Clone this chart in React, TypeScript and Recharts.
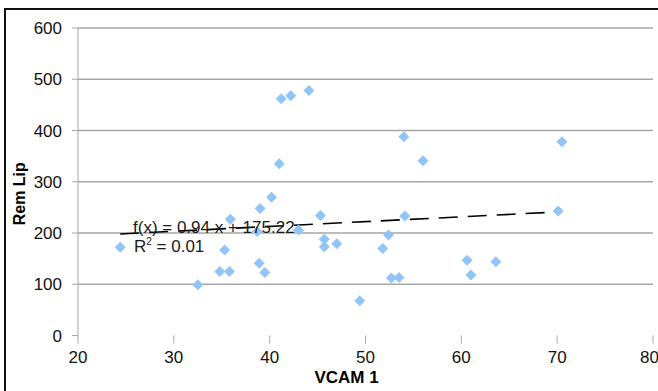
import { ScatterChart, Scatter, XAxis, YAxis, ReferenceLine } from 'recharts';

// VCAM 1 vs Rem Lip
const vcam = [
  24.4, 32.5, 34.8, 35.8, 35.3, 35.9, 38.9, 39.5, 39.0, 40.2, 38.7,
  41.0, 43.0, 45.3, 45.7, 45.7, 47.0, 49.4, 41.2, 42.2, 44.1, 54.0,
  56.0, 70.5, 54.1, 52.4, 51.8, 52.7, 53.5, 60.6, 61.0, 63.6, 70.1,
];
const remLip = [
  172, 99, 125, 125, 167, 227, 141, 123, 248, 270, 203,
  335, 206, 234, 188, 173, 179, 68, 462, 468, 478, 388,
  341, 378, 233, 196, 170, 112, 113, 147, 118, 144, 243,
];
const xTicks = [20, 30, 40, 50, 60, 70, 80];
const yTicks = [0, 100, 200, 300, 400, 500, 600];
const gridValues = [100, 200, 300, 400, 500, 600];

// linear trend shown on the chart
const slope = 0.94;
const intercept = 175.22;

const data = vcam.map((x, i) => ({ x, y: remLip[i] }));
const xMin = Math.min(...vcam);
const xMax = Math.max(...vcam);
const trend = [
  { x: xMin, y: slope * xMin + intercept },
  { x: xMax, y: slope * xMax + intercept },
];

const FONT = '"Liberation Sans", Arial, sans-serif';
const GRID = '#a6a6a6';

const Diamond = (props: any) => {
  const { cx, cy } = props;
  const r = 5.5;
  return (
    <path
      d={`M${cx},${cy - r}L${cx + r},${cy}L${cx},${cy + r}L${cx - r},${cy}Z`}
      fill="#92c5f7"
    />
  );
};

export default function App() {
  return (
    <div style={{ position: 'absolute', left: 0, top: 0, width: 658, height: 391, overflow: 'hidden', background: '#fff' }}>
      <div
        style={{
          position: 'absolute',
          left: 4,
          top: 8,
          width: 700,
          height: 420,
          borderTop: '2px solid #111',
          borderLeft: '2px solid #111',
        }}
      />
      <div style={{ position: 'absolute', left: 0, top: 0 }}>
        <ScatterChart width={658} height={391} margin={{ top: 28, right: 5, left: 0, bottom: 0 }}>
          <XAxis
            type="number"
            dataKey="x"
            domain={[20, 80]}
            ticks={xTicks}
            height={55.5}
            axisLine={false}
            tickLine={{ stroke: GRID }}
            tickSize={8}
            tickMargin={7}
            tick={{ fill: '#111', fontSize: 17, fontFamily: FONT }}
            label={{
              content: ({ viewBox }: any) => (
                <text
                  x={viewBox.x + viewBox.width / 2 - 19}
                  y={viewBox.y + viewBox.height - 8}
                  textAnchor="middle"
                  fontFamily={FONT}
                  fontSize={17}
                  fontWeight="bold"
                  fill="#000"
                >
                  VCAM 1
                </text>
              ),
            }}
          />
          <YAxis
            type="number"
            dataKey="y"
            domain={[0, 600]}
            ticks={yTicks}
            width={78}
            axisLine={{ stroke: GRID }}
            tickLine={{ stroke: GRID }}
            tickSize={6}
            tickMargin={10}
            tick={{ fill: '#111', fontSize: 17, fontFamily: FONT }}
            label={{
              content: ({ viewBox }: any) => {
                const lx = viewBox.x + 25;
                const ly = viewBox.y + viewBox.height / 2 + 12;
                return (
                  <text
                    x={lx}
                    y={ly}
                    transform={`rotate(-90, ${lx}, ${ly})`}
                    textAnchor="middle"
                    fontFamily={FONT}
                    fontSize={16}
                    fontWeight="bold"
                    fill="#000"
                  >
                    Rem Lip
                  </text>
                );
              },
            }}
          />
          {gridValues.map((v) => (
            <ReferenceLine key={v} y={v} stroke={GRID} strokeWidth={1.3} />
          ))}
          <Scatter data={data} shape={<Diamond />} isAnimationActive={false} />
          <ReferenceLine
            segment={trend}
            stroke="#000"
            strokeWidth={1.6}
            strokeDasharray="19 10"
          />
        </ScatterChart>
      </div>
      <svg
        width={658}
        height={391}
        style={{ position: 'absolute', left: 0, top: 0, pointerEvents: 'none' }}
      >
        <text x={133} y={233} fontFamily={FONT} fontSize={17} fill="#1a1a1a">
          f(x) = 0.94 x + 175.22
        </text>
        <text x={134} y={252} fontFamily={FONT} fontSize={17} fill="#1a1a1a">
          R<tspan fontSize={10} dy={-7}>2</tspan>
          <tspan dy={7}> = 0.01</tspan>
        </text>
      </svg>
    </div>
  );
}
